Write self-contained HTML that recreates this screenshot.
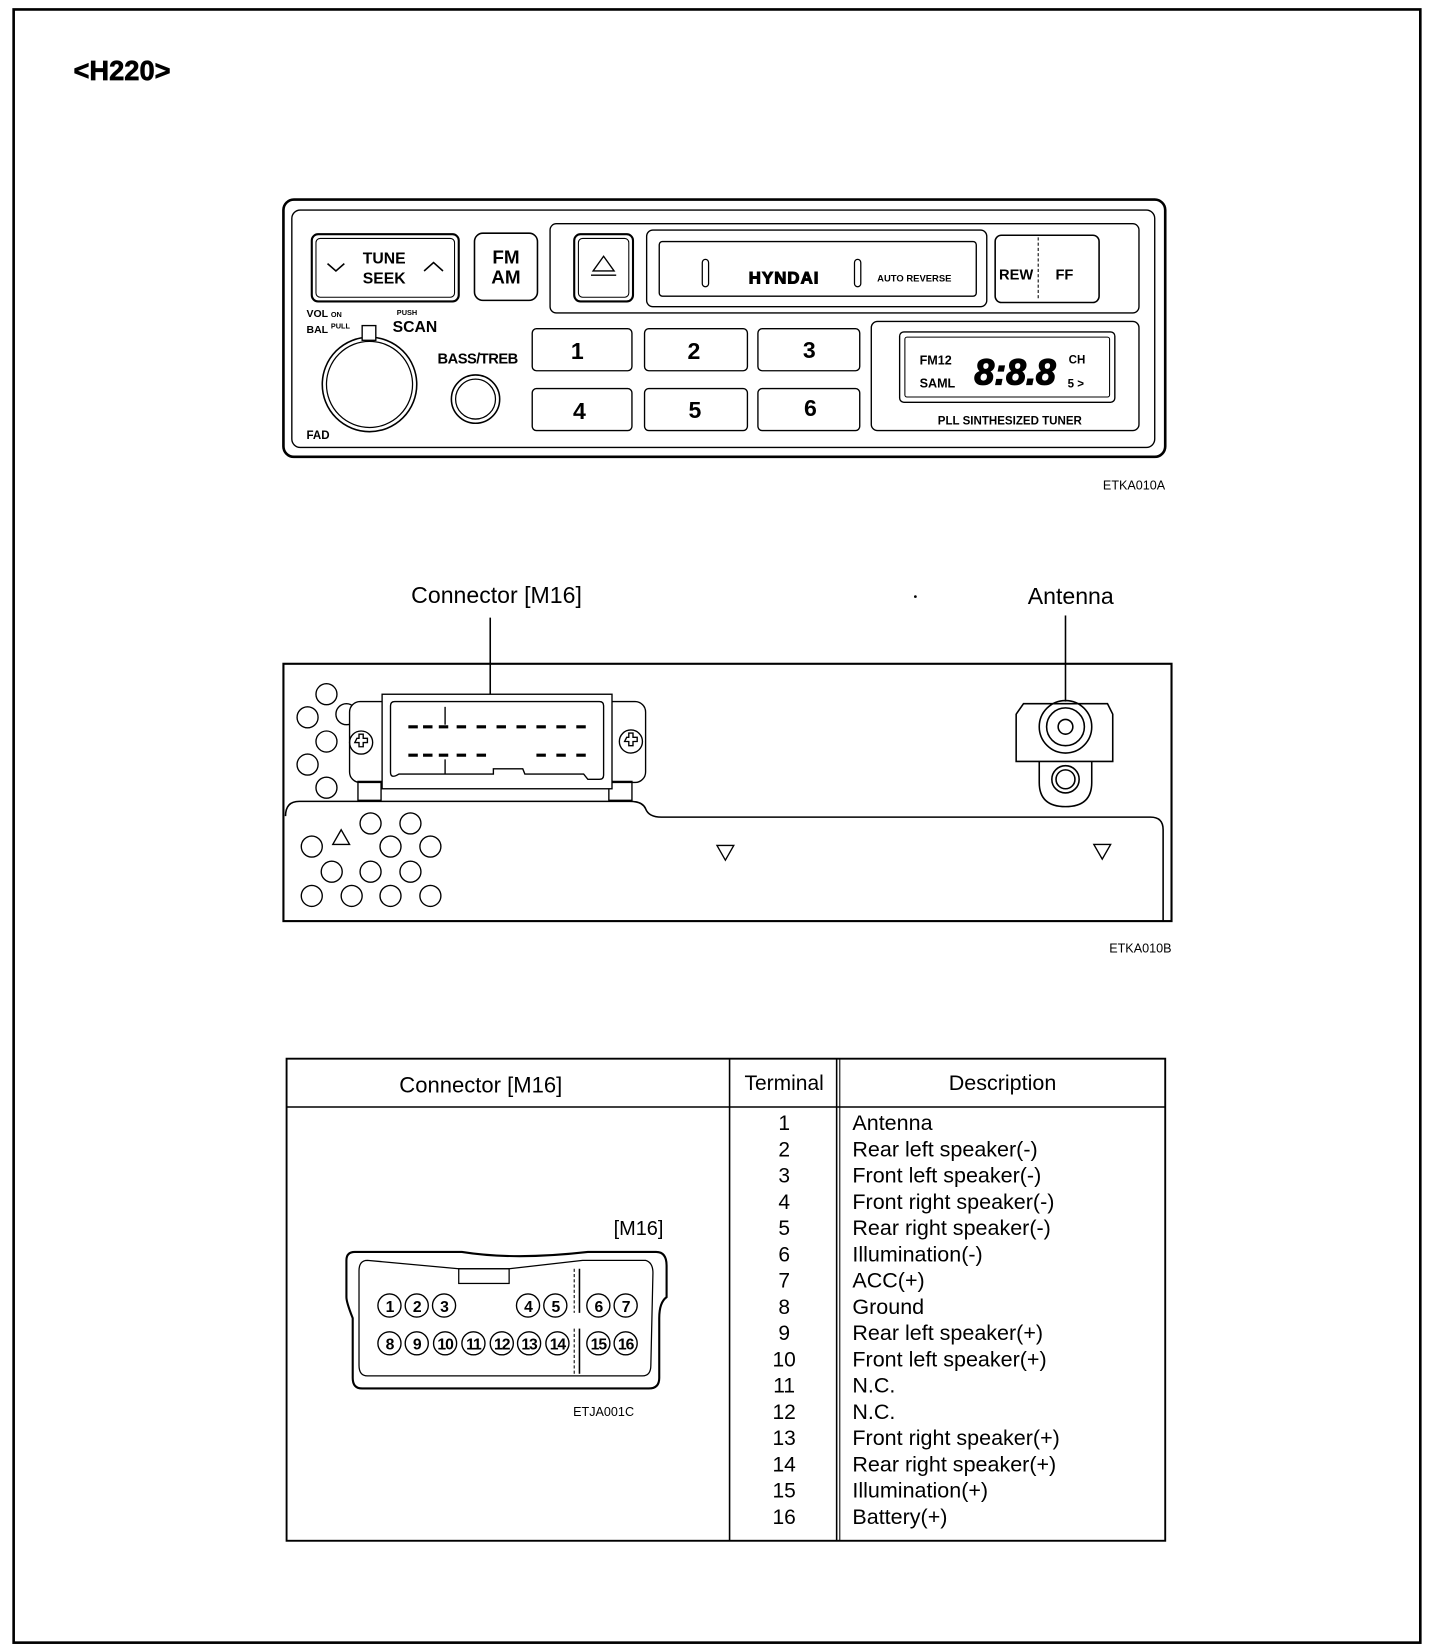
<!DOCTYPE html>
<html><head><meta charset="utf-8"><style>
html,body{margin:0;padding:0;background:#fff}
svg{display:block}
text{font-family:"Liberation Sans",sans-serif;fill:#000}
.b{font-weight:bold}
</style></head><body>
<svg width="1456" height="1650" viewBox="0 0 1387 1571" preserveAspectRatio="none" xmlns="http://www.w3.org/2000/svg">
<g fill="none" stroke="#000">
<rect x="13" y="9" width="1340" height="1555" stroke-width="2.5"/>
<!-- radio -->
<rect x="270" y="190" width="840" height="245" rx="10" stroke-width="2.5"/>
<rect x="278" y="200" width="822" height="226" rx="8" stroke-width="1.3"/>
<rect x="297" y="223" width="140" height="64" rx="6" stroke-width="2"/>
<rect x="301" y="227" width="132" height="56" rx="4" stroke-width="1"/>
<polyline points="312,251 320,258 328,251" stroke-width="1.5"/>
<polyline points="404,258 413,250 422,258" stroke-width="1.5"/>
<rect x="452" y="222" width="60" height="64" rx="8" stroke-width="1.5"/>
<rect x="524" y="213" width="561" height="85" rx="6" stroke-width="1.3"/>
<rect x="547" y="223" width="56" height="64" rx="6" stroke-width="2"/>
<rect x="551" y="227" width="48" height="56" rx="4" stroke-width="1"/>
<polygon points="575,244 565,258 585,258" stroke-width="1.3"/>
<line x1="563" y1="262" x2="587" y2="262" stroke-width="1.3"/>
<rect x="616" y="219" width="324" height="73" rx="6" stroke-width="1.3"/>
<rect x="628" y="230" width="302" height="52" rx="3" stroke-width="1.3"/>
<rect x="669" y="247" width="6" height="26" rx="3" stroke-width="1.2"/>
<rect x="814" y="247" width="6" height="26" rx="3" stroke-width="1.2"/>
<rect x="948" y="224" width="99" height="64" rx="6" stroke-width="1.5"/>
<line x1="989" y1="226" x2="989" y2="286" stroke-width="1" stroke-dasharray="3,2"/>
<circle cx="352" cy="366" r="45" stroke-width="1.5"/>
<circle cx="352" cy="366" r="41" stroke-width="1.2"/>
<rect x="345" y="310" width="13" height="14" fill="#fff" stroke-width="1.3"/>
<circle cx="453" cy="380" r="23" stroke-width="1.5"/>
<circle cx="453" cy="380" r="19" stroke-width="1.2"/>
<rect x="507" y="313" width="95" height="40" rx="4" stroke-width="1.3"/>
<rect x="614" y="313" width="98" height="40" rx="4" stroke-width="1.3"/>
<rect x="722" y="313" width="97" height="40" rx="4" stroke-width="1.3"/>
<rect x="507" y="370" width="95" height="40" rx="4" stroke-width="1.3"/>
<rect x="614" y="370" width="98" height="40" rx="4" stroke-width="1.3"/>
<rect x="722" y="370" width="97" height="40" rx="4" stroke-width="1.3"/>
<rect x="830" y="306" width="255" height="104" rx="6" stroke-width="1.3"/>
<rect x="857" y="316" width="205" height="67" rx="4" stroke-width="1.3"/>
<rect x="862" y="321" width="195" height="57" rx="2" stroke-width="1"/>
<!-- back panel -->
<rect x="270" y="632" width="846" height="245" stroke-width="2"/>
<line x1="467" y1="588" x2="467" y2="662" stroke-width="1.5"/>
<line x1="1015" y1="586" x2="1015" y2="668" stroke-width="1.5"/>
<path d="M272,777 Q272,763 285,763 L600,763 Q612,763 615,770 Q618,778 630,778 L1096,778 Q1108,778 1108,790 L1108,877" stroke-width="1.5"/>
<g stroke-width="1.3">
<circle cx="311" cy="661" r="10"/><circle cx="293" cy="683" r="10"/><circle cx="330" cy="680" r="10"/>
<circle cx="311" cy="706" r="10"/><circle cx="293" cy="728" r="10"/><circle cx="311" cy="750" r="10"/>
<circle cx="297" cy="806" r="10"/><circle cx="353" cy="784" r="10"/><circle cx="391" cy="784" r="10"/>
<circle cx="372" cy="806" r="10"/><circle cx="410" cy="806" r="10"/><circle cx="316" cy="830" r="10"/>
<circle cx="353" cy="830" r="10"/><circle cx="391" cy="830" r="10"/><circle cx="297" cy="853" r="10"/>
<circle cx="335" cy="853" r="10"/><circle cx="372" cy="853" r="10"/><circle cx="410" cy="853" r="10"/>
<polygon points="325,790 317,804 333,804"/>
<polygon points="683,805 699,805 691,819"/>
<polygon points="1042,804 1058,804 1050,818"/>
<rect x="333" y="668" width="282" height="77" rx="10" fill="#fff"/>
<rect x="341" y="744" width="22" height="18"/><rect x="580" y="744" width="22" height="18"/>
<circle cx="344" cy="707" r="11"/><circle cx="601" cy="706" r="11"/>
<path d="M340,703 h2 v-4 h4 v4 h4 v4 h-4 v4 h-4 v-4 h-4 z"/>
<path d="M597,702 h2 v-4 h4 v4 h4 v4 h-4 v4 h-4 v-4 h-4 z"/>
<rect x="364" y="661" width="219" height="90" fill="#fff"/>
<path d="M372,672 Q372,668 376,668 L571,668 Q575,668 575,672 L575,738 Q575,742 571,742 L560,742 L556,737 L500,737 L498,732 L470,732 L470,737 L380,737 Q372,742 372,735 Z"/>
<line x1="424" y1="673" x2="424" y2="690"/><line x1="424" y1="723" x2="424" y2="737"/>
</g>
<g stroke-width="3">
<path d="M389,692 h9 M403,692 h9 M418,692 h9 M435,692 h9 M454,692 h9 M473,692 h9 M492,692 h9 M511,692 h9 M530,692 h9 M549,692 h9"/>
<path d="M389,719 h9 M403,719 h9 M418,719 h9 M435,719 h9 M454,719 h9 M511,719 h9 M530,719 h9 M549,719 h9"/>
</g>
<g stroke-width="1.5">
<path d="M975,670 L1055,670 L1060,680 L1060,725 L968,725 L968,680 Z"/>
<circle cx="1015" cy="692" r="25"/><circle cx="1015" cy="692" r="18"/><circle cx="1015" cy="692" r="7"/>
<path d="M990,725 L990,745 Q990,768 1015,768 Q1040,768 1040,745 L1040,725"/>
<circle cx="1015" cy="742" r="13"/><circle cx="1015" cy="742" r="9"/>
</g>
<!-- table -->
<rect x="273" y="1008" width="837" height="459" stroke-width="1.8"/>
<line x1="273" y1="1054" x2="1110" y2="1054" stroke-width="1.5"/>
<line x1="695" y1="1008" x2="695" y2="1467" stroke-width="1.5"/>
<line x1="797" y1="1008" x2="797" y2="1467" stroke-width="1.5"/>
<line x1="800" y1="1008" x2="800" y2="1467" stroke-width="1"/>
<path d="M338,1192 L440,1192 Q490,1200 560,1192 L625,1192 Q635,1192 635,1205 L635,1235 Q628,1240 628,1255 L628,1312 Q628,1322 618,1322 L345,1322 Q336,1322 336,1312 L336,1255 Q330,1240 330,1235 L330,1200 Q330,1192 338,1192 Z" stroke-width="2"/>
<path d="M350,1200 L437,1208 L485,1208 L555,1200 L615,1200 Q622,1202 622,1212 L620,1300 Q620,1310 612,1310 L350,1310 Q342,1310 342,1300 L342,1210 Q342,1200 350,1200 Z" stroke-width="1.2"/>
<rect x="437" y="1208" width="48" height="14" stroke-width="1.2"/>
<line x1="547" y1="1208" x2="547" y2="1250" stroke-width="1" stroke-dasharray="3,2"/>
<line x1="552" y1="1208" x2="552" y2="1250" stroke-width="1.5"/>
<line x1="547" y1="1265" x2="547" y2="1308" stroke-width="1" stroke-dasharray="3,2"/>
<line x1="552" y1="1265" x2="552" y2="1308" stroke-width="1.5"/>
<g stroke-width="1.3">
<circle cx="371" cy="1243" r="11"/><circle cx="397" cy="1243" r="11"/><circle cx="423" cy="1243" r="11"/>
<circle cx="503" cy="1243" r="11"/><circle cx="529" cy="1243" r="11"/><circle cx="570" cy="1243" r="11"/><circle cx="596" cy="1243" r="11"/>
<circle cx="371" cy="1279" r="11"/><circle cx="397" cy="1279" r="11"/><circle cx="424" cy="1279" r="11"/><circle cx="451" cy="1279" r="11"/>
<circle cx="478" cy="1279" r="11"/><circle cx="504" cy="1279" r="11"/><circle cx="531" cy="1279" r="11"/><circle cx="570" cy="1279" r="11"/><circle cx="596" cy="1279" r="11"/>
</g>
</g>
<text x="70" y="76" font-size="26" class="b" stroke="#000" stroke-width="0.6">&lt;H220&gt;</text>
<g class="b" text-anchor="middle">
<text x="366" y="251" font-size="15" class="b">TUNE</text>
<text x="366" y="270" font-size="15" class="b">SEEK</text>
<text x="482" y="251" font-size="18" class="b">FM</text>
<text x="482" y="270" font-size="18" class="b">AM</text>
<text x="747" y="270" font-size="16" class="b" fill="#fff" stroke="#000" stroke-width="1" letter-spacing="1">HYNDAI</text>
<text x="871" y="268" font-size="9" class="b">AUTO REVERSE</text>
<text x="968" y="266" font-size="14" class="b">REW</text>
<text x="1014" y="266" font-size="14" class="b">FF</text>
<text x="455" y="346" font-size="14" class="b" letter-spacing="-0.5">BASS/TREB</text>
<text x="550" y="342" font-size="22" class="b">1</text>
<text x="661" y="342" font-size="22" class="b">2</text>
<text x="771" y="341" font-size="22" class="b">3</text>
<text x="552" y="399" font-size="22" class="b">4</text>
<text x="662" y="398" font-size="22" class="b">5</text>
<text x="772" y="396" font-size="22" class="b">6</text>
<text x="962" y="404" font-size="11" class="b">PLL SINTHESIZED TUNER</text>
<text x="967" y="366" font-size="34" font-style="italic" fill="#fff" stroke="#000" stroke-width="1.2">8:8.8</text>
</g>
<text x="292" y="302" font-size="10" class="b">VOL <tspan font-size="7">ON</tspan></text>
<text x="292" y="317" font-size="10" class="b">BAL <tspan font-size="7" dy="-4">PULL</tspan></text>
<text x="378" y="300" font-size="7" class="b">PUSH</text>
<text x="374" y="316" font-size="15" class="b">SCAN</text>
<text x="292" y="418" font-size="11" class="b">FAD</text>
<text x="876" y="347" font-size="12" class="b">FM12</text>
<text x="876" y="369" font-size="12" class="b">SAML</text>
<text x="1018" y="346" font-size="11" class="b">CH</text>
<text x="1017" y="369" font-size="11" class="b">5 &gt;</text>
<text x="1110" y="466" font-size="12" text-anchor="end">ETKA010A</text>
<text x="473" y="574" font-size="22" text-anchor="middle">Connector [M16]</text>
<text x="1020" y="575" font-size="22" text-anchor="middle">Antenna</text>
<circle cx="872" cy="568" r="1.3"/>
<text x="1116" y="907" font-size="12" text-anchor="end">ETKA010B</text>
<text x="458" y="1040" font-size="21" text-anchor="middle">Connector [M16]</text>
<text x="747" y="1038" font-size="20" text-anchor="middle">Terminal</text>
<text x="955" y="1038" font-size="20.5" text-anchor="middle">Description</text>
<text x="632" y="1176" font-size="19" text-anchor="end">[M16]</text>
<text x="604" y="1348" font-size="12" text-anchor="end">ETJA001C</text>
<g font-size="15" text-anchor="middle" class="b" letter-spacing="-1">
<text x="371" y="1249">1</text><text x="397" y="1249">2</text><text x="423" y="1249">3</text>
<text x="503" y="1249">4</text><text x="529" y="1249">5</text><text x="570" y="1249">6</text><text x="596" y="1249">7</text>
<text x="371" y="1285">8</text><text x="397" y="1285">9</text><text x="424" y="1285">10</text><text x="451" y="1285">11</text>
<text x="478" y="1285">12</text><text x="504" y="1285">13</text><text x="531" y="1285">14</text><text x="570" y="1285">15</text><text x="596" y="1285">16</text>
</g>
<g font-size="20" text-anchor="middle">
<text x="747" y="1076">1</text><text x="747" y="1101">2</text><text x="747" y="1126">3</text><text x="747" y="1151">4</text>
<text x="747" y="1176">5</text><text x="747" y="1201">6</text><text x="747" y="1226">7</text><text x="747" y="1251">8</text>
<text x="747" y="1276">9</text><text x="747" y="1301">10</text><text x="747" y="1326">11</text><text x="747" y="1351">12</text>
<text x="747" y="1376">13</text><text x="747" y="1401">14</text><text x="747" y="1426">15</text><text x="747" y="1451">16</text>
</g>
<g font-size="20.5">
<text x="812" y="1076">Antenna</text>
<text x="812" y="1101">Rear left speaker(-)</text>
<text x="812" y="1126">Front left speaker(-)</text>
<text x="812" y="1151">Front right speaker(-)</text>
<text x="812" y="1176">Rear right speaker(-)</text>
<text x="812" y="1201">Illumination(-)</text>
<text x="812" y="1226">ACC(+)</text>
<text x="812" y="1251">Ground</text>
<text x="812" y="1276">Rear left speaker(+)</text>
<text x="812" y="1301">Front left speaker(+)</text>
<text x="812" y="1326">N.C.</text>
<text x="812" y="1351">N.C.</text>
<text x="812" y="1376">Front right speaker(+)</text>
<text x="812" y="1401">Rear right speaker(+)</text>
<text x="812" y="1426">Illumination(+)</text>
<text x="812" y="1451">Battery(+)</text>
</g>
</svg>
</body></html>
